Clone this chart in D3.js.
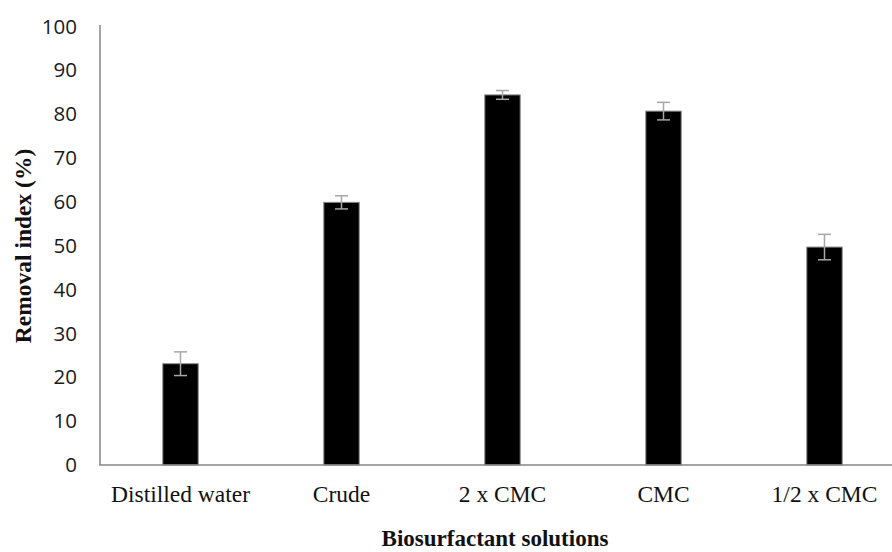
<!DOCTYPE html>
<html>
<head>
<meta charset="utf-8">
<script src="https://cdn.jsdelivr.net/npm/d3@7"></script>
<style>
html, body { margin: 0; padding: 0; background: #fff; }
svg { display: block; }
</style>
</head>
<body>
<svg id="chart" width="892" height="552"></svg>
<script>
const categories = ["Distilled water", "Crude", "2 x CMC", "CMC", "1/2 x CMC"];
const values = [23.1, 59.9, 84.4, 80.7, 49.7];
const errors = [2.7, 1.5, 1.0, 2.0, 2.9];
const yTicks = [0, 10, 20, 30, 40, 50, 60, 70, 80, 90, 100];
const xTitle = "Biosurfactant solutions";
const yTitle = "Removal index (%)";

const svg = d3.select("#chart");
const W = 892, H = 552;
svg.append("rect").attr("width", W).attr("height", H).attr("fill", "#fff");

const x = d3.scaleBand().domain(categories).range([100, 905]).paddingInner(0.78).paddingOuter(0.39);
const y = d3.scaleLinear().domain([0, 100]).range([465, 26.5]);

const data = categories.map((c, i) => ({ c, v: values[i], e: errors[i] }));

// y axis labels
const yAxis = svg.append("g").attr("transform", "translate(100,0)")
  .call(d3.axisLeft(y).tickValues(yTicks).tickSize(0).tickPadding(23).tickFormat(d3.format("d")));
yAxis.select(".domain").remove();
yAxis.selectAll("text").attr("font-family", "'Open Sans', sans-serif").attr("font-size", "20.5px").attr("fill", "#1a1a1a");

// bars
svg.append("g").selectAll("rect").data(data).join("rect")
  .attr("x", d => x(d.c))
  .attr("y", d => y(d.v))
  .attr("width", x.bandwidth())
  .attr("height", d => y(0) - y(d.v))
  .attr("fill", "#000")
  .attr("stroke", "#8a8a8a")
  .attr("stroke-width", 1);

// error bars
const eg = svg.append("g").attr("stroke", "#a6a6a6").attr("stroke-width", 1.5).attr("fill", "none");
data.forEach(d => {
  const cx = x(d.c) + x.bandwidth() / 2;
  eg.append("line").attr("x1", cx).attr("x2", cx).attr("y1", y(d.v + d.e)).attr("y2", y(d.v - d.e));
  eg.append("line").attr("x1", cx - 6.5).attr("x2", cx + 6.5).attr("y1", y(d.v + d.e)).attr("y2", y(d.v + d.e));
  eg.append("line").attr("x1", cx - 6.5).attr("x2", cx + 6.5).attr("y1", y(d.v - d.e)).attr("y2", y(d.v - d.e));
});

// axis lines
svg.append("line").attr("x1", 100).attr("x2", 100).attr("y1", y(100) - 1.5).attr("y2", y(0))
  .attr("stroke", "#868686").attr("stroke-width", 1.5);

const xAxis = svg.append("g").attr("transform", `translate(0,${y(0)})`)
  .call(d3.axisBottom(x).tickSize(0));
xAxis.select(".domain").remove();
xAxis.selectAll("text")
  .attr("y", 36.7).attr("dy", "0")
  .attr("font-family", "'Liberation Serif', 'Times New Roman', serif")
  .attr("font-size", "23.5px").attr("fill", "#111");

svg.append("line").attr("x1", 99.25).attr("x2", W).attr("y1", y(0)).attr("y2", y(0))
  .attr("stroke", "#868686").attr("stroke-width", 1.5);

// titles
svg.append("text").attr("x", 495).attr("y", 546).attr("text-anchor", "middle")
  .attr("font-family", "'Liberation Serif', 'Times New Roman', serif").attr("font-weight", "bold")
  .attr("font-size", "23px").attr("fill", "#111").text(xTitle);

svg.append("text").attr("transform", "translate(31,246) rotate(-90)").attr("text-anchor", "middle")
  .attr("font-family", "'Liberation Serif', 'Times New Roman', serif").attr("font-weight", "bold")
  .attr("font-size", "23.5px").attr("fill", "#111").text(yTitle);
</script>
</body>
</html>
